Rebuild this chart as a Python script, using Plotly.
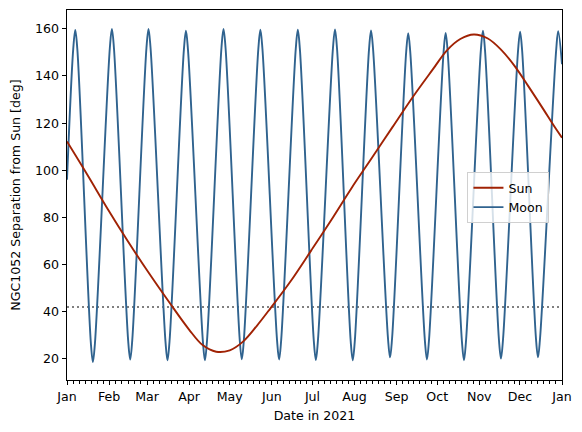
import pandas as pd
import plotly.graph_objects as go

# ---- data ----
# day offsets from 2021-01-01
sun_days = [0, 15, 30, 45, 60, 75, 90, 100, 110, 120, 130, 140, 150, 165, 180, 195, 210,
            225, 240, 255, 270, 280, 290, 300, 310, 320, 330, 340, 350, 360, 365]
sun_sep = [112.2, 98.1, 83.6, 69.8, 56.7, 44.3, 32.4, 25.8, 23.0, 23.6, 27.4, 34.0, 41.4,
           53.0, 65.9, 79.0, 92.6, 105.4, 118.3, 131.1, 143.0, 150.8, 155.7, 157.6, 156.0,
           151.2, 144.3, 135.8, 127.0, 118.0, 113.8]

moon_days = [0.0,
             4.6, 6.1, 7.6, 17.6, 19.1, 20.6,
             31.6, 33.1, 34.6, 45.1, 46.6, 48.1,
             58.6, 60.1, 61.6, 72.6, 74.1, 75.6,
             86.2, 87.7, 89.2, 100.2, 101.7, 103.2,
             113.9, 115.4, 116.9, 127.4, 128.9, 130.4,
             141.1, 142.6, 144.1, 154.9, 156.4, 157.9,
             168.7, 170.2, 171.7, 182.0, 183.5, 185.0,
             196.1, 197.6, 199.1, 209.2, 210.7, 212.2,
             222.7, 224.2, 225.7, 236.7, 238.2, 239.7,
             250.1, 251.6, 253.1, 263.9, 265.4, 266.9,
             277.7, 279.2, 280.7, 291.2, 292.7, 294.2,
             305.2, 306.7, 308.2, 318.5, 320.0, 321.5,
             332.6, 334.1, 335.6, 345.8, 347.3, 348.8,
             360.7, 362.2, 365.0]
moon_sep = [96.0,
            151.5, 159.5, 151.5, 26.6, 18.6, 26.6,
            152.0, 160.0, 152.0, 27.7, 19.7, 27.7,
            152.0, 160.0, 152.0, 27.4, 19.4, 27.4,
            151.2, 159.2, 151.2, 27.4, 19.4, 27.4,
            152.0, 160.0, 152.0, 27.8, 19.8, 27.8,
            151.6, 159.6, 151.6, 27.7, 19.7, 27.7,
            151.6, 159.6, 151.6, 27.5, 19.5, 27.5,
            151.7, 159.7, 151.7, 27.4, 19.4, 27.4,
            151.3, 159.3, 151.3, 28.6, 20.6, 28.6,
            150.2, 158.2, 150.2, 27.7, 19.7, 27.7,
            150.3, 158.3, 150.3, 27.4, 19.4, 27.4,
            151.2, 159.2, 151.2, 28.1, 20.1, 28.1,
            150.8, 158.8, 150.8, 28.6, 20.6, 28.6,
            151.0, 159.0, 145.0]

limit_sep = 42.0
month_ticks = pd.date_range("2021-01-01", "2022-01-01", freq="MS")
month_labels = ["Jan", "Feb", "Mar", "Apr", "May", "Jun", "Jul", "Aug",
                "Sep", "Oct", "Nov", "Dec", "Jan"]

# ---- build ----
t0 = pd.Timestamp("2021-01-01")
sun_x = t0 + pd.to_timedelta(sun_days, unit="D")
moon_x = t0 + pd.to_timedelta(moon_days, unit="D")

# minor ticks: each month divided into ~4.4-day parts
minor_vals = []
for a, b in zip(month_ticks[:-1], month_ticks[1:]):
    L = (b - a).days
    n = round(L / 4.43)
    for k in range(1, n):
        minor_vals.append(a + pd.Timedelta(days=k * L / n))

SUN_C = "#a02204"
MOON_C = "#30638f"
FONT = "DejaVu Sans"
FS = 12.6

fig = go.Figure()
fig.add_trace(go.Scatter(x=moon_x, y=moon_sep, mode="lines", name="Moon",
                         line=dict(color=MOON_C, width=1.9, shape="spline", smoothing=1.0)))
fig.add_trace(go.Scatter(x=sun_x, y=sun_sep, mode="lines", name="Sun",
                         line=dict(color=SUN_C, width=1.9, shape="spline", smoothing=1.0)))

fig.add_shape(type="line", xref="paper", x0=0, x1=1, yref="y", y0=limit_sep, y1=limit_sep,
              line=dict(color="#808080", width=1.9, dash="2px,3px"), layer="below")

fig.update_layout(
    width=582, height=432,
    margin=dict(l=67, r=20, t=10, b=52),
    paper_bgcolor="white", plot_bgcolor="white",
    font=dict(family=FONT, size=FS, color="black"),
    showlegend=True,
    legend=dict(x=0.809, y=0.562, xanchor="left", yanchor="top",
                traceorder="reversed",
                bgcolor="rgba(255,255,255,0.8)", bordercolor="#d0d0d0", borderwidth=1,
                font=dict(family=FONT, size=FS, color="black"),
                itemwidth=30, tracegroupgap=0),
)
fig.update_xaxes(
    range=[t0, pd.Timestamp("2022-01-01")],
    tickmode="array", tickvals=list(month_ticks), ticktext=month_labels,
    ticks="outside", ticklen=4.4, tickwidth=1, tickcolor="black",
    showline=True, linecolor="black", linewidth=1, mirror=True,
    showgrid=False, zeroline=False,
    minor=dict(tickmode="array", tickvals=minor_vals, ticks="outside", ticklen=2.5,
               tickwidth=0.8, tickcolor="black", showgrid=False),
    title=dict(text="Date in 2021", font=dict(family=FONT, size=FS), standoff=8),
    tickfont=dict(family=FONT, size=FS),
)
fig.update_yaxes(
    range=[11.0, 168.0],
    tickmode="array", tickvals=[20, 40, 60, 80, 100, 120, 140, 160],
    ticks="outside", ticklen=4.4, tickwidth=1, tickcolor="black",
    showline=True, linecolor="black", linewidth=1, mirror=True,
    showgrid=False, zeroline=False,
    title=dict(text="NGC1052 Separation from Sun [deg]", font=dict(family=FONT, size=FS), standoff=11),
    tickfont=dict(family=FONT, size=FS),
)

fig.write_html("out.html")
